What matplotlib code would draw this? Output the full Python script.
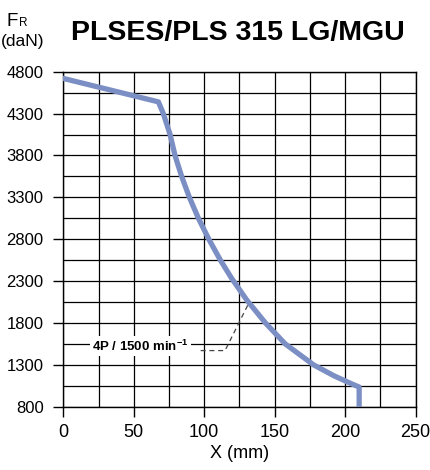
import matplotlib
matplotlib.use("Agg")
import matplotlib.pyplot as plt
import numpy as np

# Data
x_mm = [0, 67.5, 71, 75.8, 79.3, 84, 89.5, 95.9, 103.3, 111.5, 119.6, 130.2,
        143.5, 157.5, 177.6, 192, 205, 210, 210]
fr_dan = [4720, 4440, 4300, 4050, 3800, 3550, 3300, 3050, 2800, 2550, 2330, 2074,
          1800, 1550, 1300, 1170, 1070, 1035, 800]
leader_x = [97.5, 114.8, 131.6]
leader_y = [1470, 1470, 2035]
label_x = 20.4
label_y = 1525
x_ticks = [0, 50, 100, 150, 200, 250]
y_ticks = [800, 1300, 1800, 2300, 2800, 3300, 3800, 4300, 4800]
title = "PLSES/PLS 315 LG/MGU"
curve_label = "4P / 1500 min$^{\\mathbf{-1}}$"

plt.rcParams['font.family'] = ['Liberation Sans', 'DejaVu Sans']
plt.rcParams['mathtext.fontset'] = 'custom'
plt.rcParams['mathtext.bf'] = 'Liberation Sans:bold'
plt.rcParams['mathtext.rm'] = 'Liberation Sans'

fig = plt.figure(figsize=(4.3, 4.7), dpi=100)
ax = fig.add_axes([0.1472, 0.1347, 0.8191, 0.7127])

ax.set_xlim(0, 250)
ax.set_ylim(800, 4800)

# grid
for gx in np.arange(0, 251, 25):
    ax.axvline(gx, color='black', lw=0.9, zorder=1)
for gy in np.arange(800, 4801, 250):
    ax.axhline(gy, color='black', lw=0.9, zorder=1)

ax.plot(x_mm, fr_dan, color='#7b8fc4', lw=3.8, solid_joinstyle='round', zorder=3)
ax.plot(leader_x, leader_y, color='#444444', lw=0.9, ls=(0, (4, 3)), zorder=2)

ax.text(label_x, label_y, curve_label, ha='left', va='center', fontsize=9.5,
        fontweight='bold', zorder=4,
        bbox=dict(facecolor='white', edgecolor='none', pad=1.5))

ax.set_xticks(x_ticks)
ax.set_yticks(y_ticks)
ax.tick_params(axis='both', direction='out', length=7.2, width=1, color='black')
ax.tick_params(axis='y', labelsize=12, pad=7)
ax.tick_params(axis='x', labelsize=13, pad=5)
for s in ax.spines.values():
    s.set_color('black')
    s.set_linewidth(1)

ax.set_xlabel('X (mm)', fontsize=13, labelpad=3)

fig.text(0.553, 0.93, title, ha='center', va='center', fontsize=20.5, fontweight='bold')
fig.text(0.014, 0.955, 'F', ha='left', va='center', fontsize=13.5)
fig.text(0.044, 0.952, 'R', ha='left', va='center', fontsize=8.5)
fig.text(0.003, 0.912, '(daN)', ha='left', va='center', fontsize=12.5)

fig.savefig('out.png', dpi=100)
